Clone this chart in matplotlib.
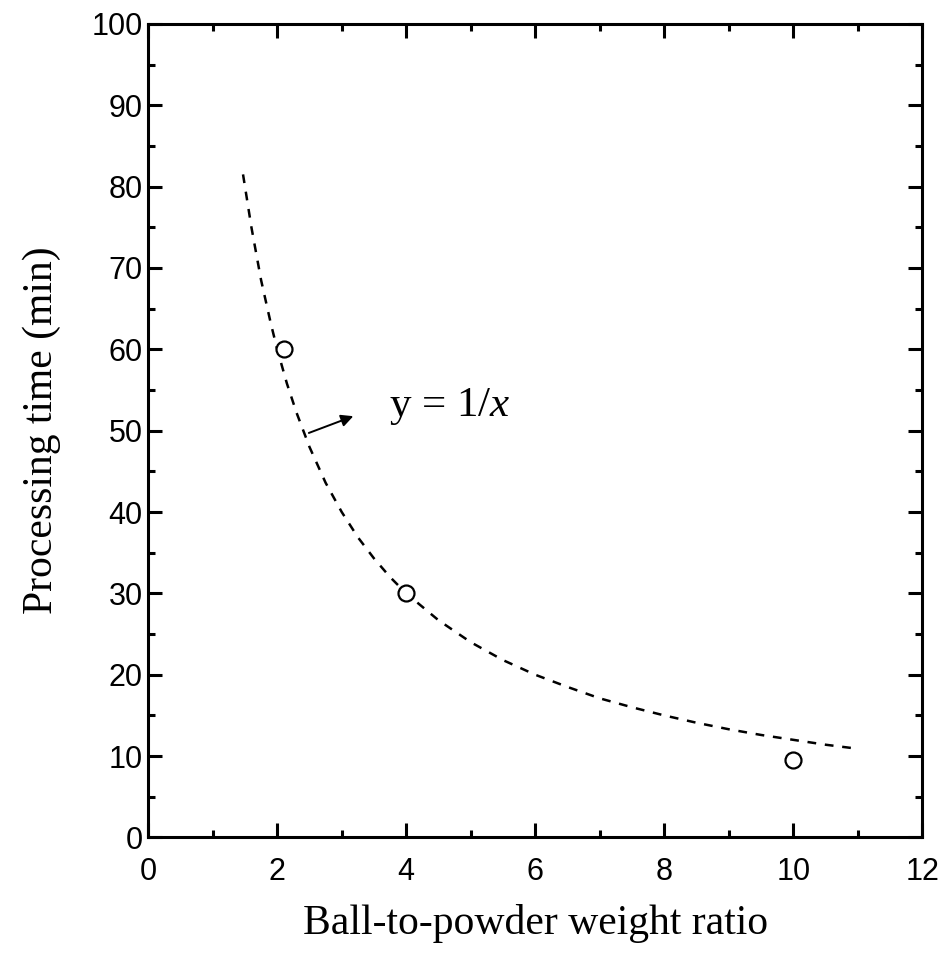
import matplotlib
matplotlib.use("Agg")
from matplotlib import pyplot as plt

plt.rcParams['mathtext.fontset'] = 'custom'
plt.rcParams['mathtext.rm'] = 'Liberation Serif'
plt.rcParams['mathtext.it'] = 'Liberation Serif:italic'

# measured points (ball-to-powder ratio, processing time in min)
ratio = [2.1, 4.0, 10.0]
time_min = [60, 30, 9.5]

# dashed y = 1/x curve
curve_x = [1.47, 1.6, 1.75, 1.9, 2.0, 2.15, 2.3, 2.5, 2.75, 3.0, 3.25, 3.5, 3.75, 4.0,
           4.5, 5.0, 5.5, 6.0, 6.5, 7.0, 7.5, 8.0, 8.5, 9.0, 9.5, 10.0, 10.5, 10.9]
curve_y = [81.5, 75.0, 68.5, 63.2, 60.0, 55.8, 52.2, 48.0, 43.6, 40.0, 36.9, 34.3, 32.0, 30.0,
           26.7, 24.0, 21.8, 20.0, 18.5, 17.1, 16.0, 15.0, 14.1, 13.3, 12.6, 12.0, 11.4, 11.0]

x_ticks = [0, 2, 4, 6, 8, 10, 12]
y_ticks = [0, 10, 20, 30, 40, 50, 60, 70, 80, 90, 100]

fig = plt.figure(figsize=(9.44, 9.56), dpi=100)
ax = fig.add_axes([0.157, 0.124, 0.82, 0.851])

ax.plot(curve_x, curve_y, color='black', lw=1.8, dashes=(3.5, 3.5))
ax.plot(ratio, time_min, 'o', mfc='white', mec='black', ms=11.5, mew=1.6)

ax.annotate('', xy=(3.22, 51.9), xytext=(2.45, 49.6),
            arrowprops=dict(arrowstyle='-|>', color='black', lw=1.4, mutation_scale=18))
ax.text(3.74, 53.0, 'y = $\\mathit{1/x}$', fontsize=31, family='Liberation Serif',
        va='center', ha='left')

ax.set_xlim(0, 12)
ax.set_ylim(0, 100)
ax.set_xticks(x_ticks)
ax.set_yticks(y_ticks)
ax.set_xticks(range(1, 12, 2), minor=True)
ax.set_yticks(range(5, 100, 10), minor=True)
ax.tick_params(which='both', direction='in', top=True, right=True, width=2.2)
ax.tick_params(which='major', length=10, labelsize=22)
ax.tick_params(which='minor', length=5)
ax.tick_params(axis='x', pad=14)
ax.tick_params(axis='y', pad=4)
for lab in ax.get_xticklabels() + ax.get_yticklabels():
    lab.set_family('Liberation Sans')
for sp in ax.spines.values():
    sp.set_linewidth(2.2)

ax.set_xlabel('Ball-to-powder weight ratio', fontsize=30, family='Liberation Serif', labelpad=12)
ax.set_ylabel('Processing time (min)', fontsize=30, family='Liberation Serif', labelpad=22)

fig.savefig('out.png', dpi=100)
